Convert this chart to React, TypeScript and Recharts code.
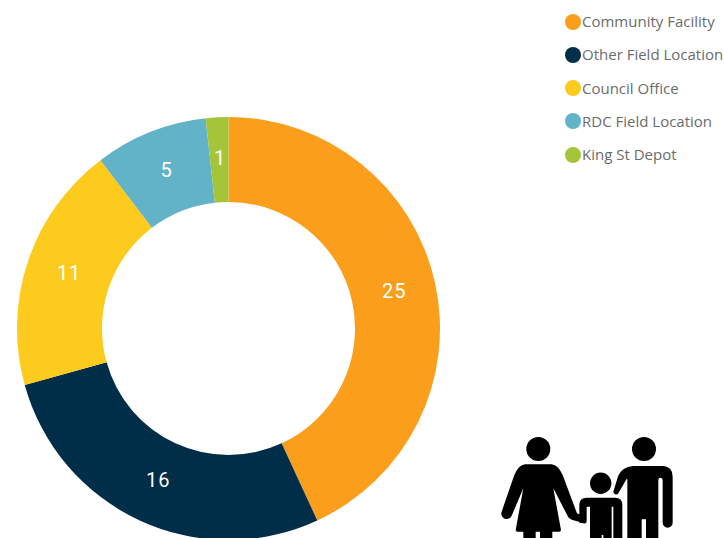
import React from 'react'
import { PieChart, Pie, Cell, Legend } from 'recharts'

const locations = ['Community Facility', 'Other Field Location', 'Council Office', 'RDC Field Location', 'King St Depot']
const counts = [25, 16, 11, 5, 1]
const colors = ['#FB9E1C', '#002D47', '#FCCB1D', '#62B2C8', '#A6C43A']

const data = locations.map((name, i) => ({ name, value: counts[i] }))

const RADIAN = Math.PI / 180

const renderLabel = (props: any) => {
  const { cx, cy, midAngle, innerRadius, outerRadius, value } = props
  const r = (innerRadius + outerRadius) / 2
  return (
    <text
      x={cx + r * Math.cos(-midAngle * RADIAN) + 0.7}
      y={cy + r * Math.sin(-midAngle * RADIAN) - 1.5}
      fill="#fff"
      fontFamily="Roboto, sans-serif"
      fontSize={20}
      letterSpacing={0.9}
      textAnchor="middle"
      dominantBaseline="central"
    >
      {value}
    </text>
  )
}

const renderLegend = () => (
  <div style={{ fontFamily: '"Open Sans", sans-serif', fontSize: 15, color: '#6b6b6b' }}>
    {locations.map((name, i) => (
      <div key={name} style={{ display: 'flex', alignItems: 'center', height: 33.25, whiteSpace: 'nowrap' }}>
        <span
          style={{
            width: 16,
            height: 16,
            borderRadius: '50%',
            background: colors[i],
            marginRight: 1,
            flex: 'none',
          }}
        />
        <span style={{ position: 'relative', top: -0.6 }}>{name}</span>
      </div>
    ))}
  </div>
)

// Family pictogram in the lower right corner, drawn at 3x and scaled down
const FamilyIcon = () => (
  <svg width={724} height={538} style={{ position: 'absolute', left: 0, top: 0 }}>
    <circle cx={538.3} cy={449} r={12} />
    <circle cx={644} cy={449} r={12} />
    <circle cx={600.7} cy={483.3} r={10.7} />
    <g transform="translate(495 455) scale(0.3333)">
      {/* woman */}
      <path d="M90 28 H170 Q190 30 203 60 L246 175 L262 182 L270 205 L235 196 Q222 192 218 183 L175 100 L198 225 Q198 230 192 230 H68 Q62 230 62 225 L85 100 L50 182 A16 16 0 0 1 20 170 L58 60 Q70 30 90 28 Z" />
      <rect x={85} y={228} width={37} height={25} />
      <rect x={135} y={228} width={37} height={25} />
    </g>
    <g transform="translate(570 460) scale(0.3333)">
      {/* child */}
      <path d="M50 113 H135 Q157 113 157 135 V234 H130 V140 H125 V234 H100 V225 H95 V234 H60 V140 H50 V182 Q50 192 40 190 L28 188 V135 Q28 113 50 113 Z" />
      {/* man */}
      <path d="M190 18 H280 Q308 20 308 50 V188 A15 15 0 0 1 278 188 V60 Q278 53 271 53 Q265 53 265 60 V234 H228 V178 H215 V234 H172 V58 Q170 55 168 60 L146 98 A8 8 0 0 1 131 92 L140 62 Q150 20 190 18 Z" />
    </g>
  </svg>
)

export default function App() {
  return (
    <div style={{ position: 'absolute', left: 0, top: 0, width: 724, height: 538, overflow: 'hidden', background: '#fff' }}>
      <PieChart width={724} height={538} margin={{ top: 0, right: 0, bottom: 0, left: 0 }}>
        <Pie
          data={data}
          dataKey="value"
          nameKey="name"
          cx={228.5}
          cy={328.5}
          innerRadius={126.5}
          outerRadius={211.5}
          startAngle={90}
          endAngle={-270}
          stroke="none"
          label={renderLabel}
          labelLine={false}
          isAnimationActive={false}
        >
          {data.map((d, i) => (
            <Cell key={d.name} fill={colors[i]} />
          ))}
        </Pie>
        <Legend
          layout="vertical"
          align="right"
          verticalAlign="top"
          content={renderLegend}
          wrapperStyle={{ left: 565, top: 5, width: 159, right: 'auto' }}
        />
      </PieChart>
      <FamilyIcon />
    </div>
  )
}
